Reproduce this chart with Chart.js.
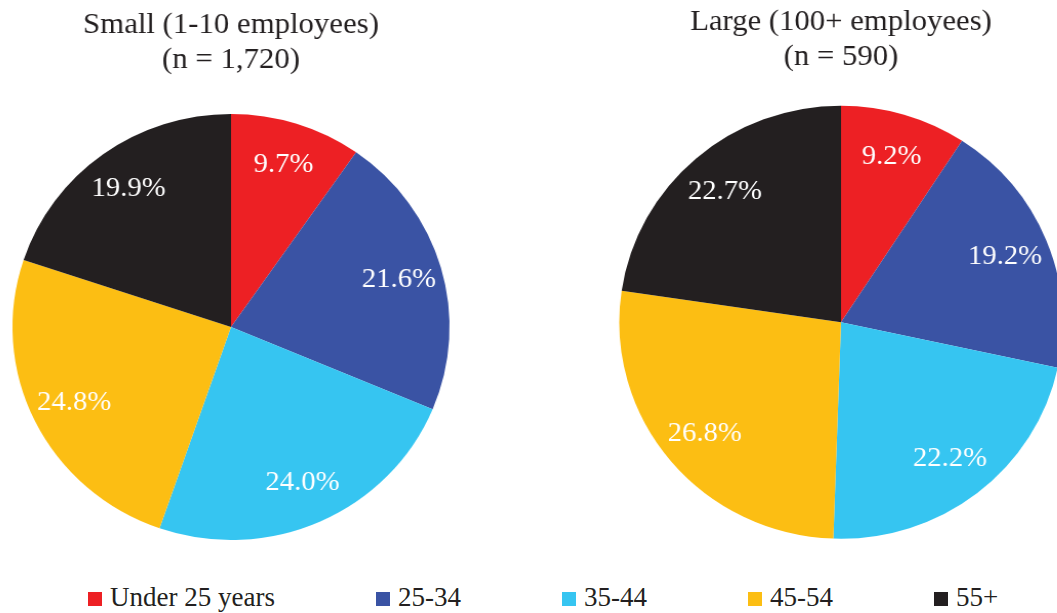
<!DOCTYPE html>
<html>
<head>
<meta charset="utf-8">
<script src="https://cdn.jsdelivr.net/npm/chart.js@4/dist/chart.umd.min.js"></script>
<style>
  html, body { margin: 0; padding: 0; background: #ffffff; overflow: hidden; }
  body { width: 1057px; height: 613px; position: relative; }
  canvas { position: absolute; }
  #c1 { left: 0px; top: 0px; transform: scaleX(1.026); transform-origin: 231px 0; }
  #c2 { left: 616px; top: 0px; transform: scaleX(1.024); transform-origin: 225px 0; }
  #legend {
    position: absolute; left: 88px; top: 584px;
    display: flex; gap: 101px;
    font-family: 'Liberation Serif', 'Times New Roman', serif;
    font-size: 27px; line-height: 27px; color: #231F20; white-space: nowrap;
  }
  #legend .item { display: flex; align-items: baseline; }
  #legend .sw { display: inline-block; width: 14px; height: 14px; margin-right: 8px; }
</style>
</head>
<body>
<canvas id="c1" width="462" height="557"></canvas>
<canvas id="c2" width="450" height="550"></canvas>
<div id="legend"></div>
<script>
// ---- data ----
const categories = ['Under 25 years', '25-34', '35-44', '45-54', '55+'];
const smallValues = [9.7, 21.6, 24.0, 24.8, 19.9];
const largeValues = [9.2, 19.2, 22.2, 26.8, 22.7];
const smallTitle = ['Small (1-10 employees)', '(n = 1,720)'];
const largeTitle = ['Large (100+ employees)', '(n = 590)'];
const colors = ['#ED2024', '#3A53A4', '#36C5F1', '#FCBE13', '#231F20'];

const FONT = "'Liberation Serif', 'Times New Roman', serif";
const TEXT = '#231F20';

const labelPlugin = {
  id: 'sliceLabels',
  afterDatasetsDraw(chart) {
    const ctx = chart.ctx;
    const meta = chart.getDatasetMeta(0);
    const vals = chart.data.datasets[0].data;
    ctx.save();
    ctx.fillStyle = '#ffffff';
    ctx.font = '28px ' + FONT;
    ctx.textAlign = 'center';
    ctx.textBaseline = 'middle';
    meta.data.forEach((arc, i) => {
      const p = arc.getProps(['x', 'y', 'startAngle', 'endAngle', 'outerRadius'], true);
      const mid = (p.startAngle + p.endAngle) / 2;
      const r = p.outerRadius * 0.8;
      ctx.fillText(vals[i].toFixed(1) + '%', p.x + Math.cos(mid) * r, p.y + Math.sin(mid) * r);
    });
    ctx.restore();
  }
};

function makePie(id, values, title, radius, padTop, padBottom) {
  return new Chart(document.getElementById(id), {
    type: 'pie',
    data: {
      labels: categories,
      datasets: [{ data: values, backgroundColor: colors, borderWidth: 0 }]
    },
    options: {
      responsive: false,
      animation: false,
      devicePixelRatio: 1,
      radius: radius,
      layout: { padding: 0 },
      plugins: {
        legend: { display: false },
        tooltip: { enabled: false },
        title: {
          display: true,
          text: title,
          color: TEXT,
          font: { family: FONT, size: 30, weight: 'normal', lineHeight: 35 / 30 },
          padding: { top: padTop, bottom: padBottom }
        }
      }
    },
    plugins: [labelPlugin]
  });
}

makePie('c1', smallValues, smallTitle, 213, 7.5, 19.5);
makePie('c2', largeValues, largeTitle, 216.5, 4.5, 20);

// HTML legend
const lg = document.getElementById('legend');
categories.forEach((c, i) => {
  const it = document.createElement('span');
  it.className = 'item';
  const sw = document.createElement('span');
  sw.className = 'sw';
  sw.style.background = colors[i];
  const tx = document.createElement('span');
  tx.textContent = c;
  it.appendChild(sw);
  it.appendChild(tx);
  lg.appendChild(it);
});
</script>
</body>
</html>
